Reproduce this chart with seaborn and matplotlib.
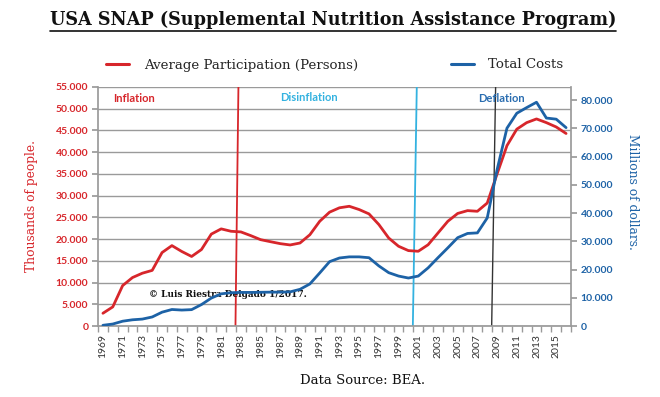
import matplotlib
matplotlib.use("Agg")
import matplotlib.pyplot as plt
import seaborn as sns
import pandas as pd
from matplotlib.lines import Line2D
from matplotlib.ticker import FuncFormatter, MultipleLocator, FixedLocator

# ---------------- data ----------------
years = list(range(1969, 2017))
participation = [2930, 4400, 9300, 11150, 12150, 12800, 16900, 18500, 17150, 16000,
                 17600, 21150, 22350, 21800, 21650, 20800, 19870, 19400, 18950, 18650,
                 19100, 21000, 24100, 26200, 27200, 27550, 26800, 25800, 23350, 20250,
                 18350, 17350, 17200, 18700, 21400, 24100, 25900, 26550, 26400, 28300,
                 35000, 41500, 45300, 46800, 47650, 46800, 45800, 44300]
costs = [250, 700, 1700, 2200, 2450, 3200, 4900, 5850, 5650, 5800,
         7600, 9900, 11400, 11800, 11900, 11900, 11950, 12000, 12000, 12100,
         13000, 14900, 18800, 22800, 24100, 24500, 24500, 24200, 21300, 18900,
         17700, 17000, 17700, 20600, 24200, 27700, 31300, 32800, 33000, 38300,
         55400, 70100, 75400, 77400, 79300, 73700, 73300, 70300]
tick_years = list(range(1969, 2016, 2))
period_labels = ["Inflation", "Disinflation", "Deflation"]
break_top = [1982.75, 2000.85, 2008.85]
break_bottom = [1982.45, 2000.45, 2008.45]

df = pd.DataFrame({"year": years, "participation": participation, "costs": costs})

RED = "#d7262b"
BLUE = "#1d62a6"
CYAN = "#33b2e0"
GRID = "#9a9a9a"

sns.set_theme(style="white")
plt.rcParams["font.family"] = ["DejaVu Sans"]

fig = plt.figure(figsize=(6.6, 3.97), dpi=100)
ax = fig.add_axes([98 / 660, 1 - 326 / 397, (571 - 98) / 660, (326 - 87) / 397])
ax2 = ax.twinx()

sns.lineplot(data=df, x="year", y="participation", ax=ax, color=RED, lw=2.0,
             label="Average Participation (Persons)", legend=False)
sns.lineplot(data=df, x="year", y="costs", ax=ax2, color=BLUE, lw=2.0,
             label="Total Costs", legend=False)

ax.set_xlim(years[0] - 0.5, years[-1] + 0.5)
ax.set_ylim(0, 55000)
ax2.set_ylim(0, 84700)

# grid and spines
ax.yaxis.set_major_locator(MultipleLocator(5000))
ax.grid(axis="y", color=GRID, lw=1.0)
ax.grid(axis="x", visible=False)
ax.set_axisbelow(True)
for a in (ax, ax2):
    for s in a.spines.values():
        s.set_visible(False)
ax.spines["left"].set_visible(True)
ax.spines["left"].set_color(GRID)
ax.spines["bottom"].set_visible(True)
ax.spines["bottom"].set_color(GRID)
ax2.spines["right"].set_visible(True)
ax2.spines["right"].set_color(GRID)

fmt = FuncFormatter(lambda v, p: f"{int(v):,}".replace(",", "."))
ax.yaxis.set_major_formatter(fmt)
ax2.yaxis.set_major_locator(MultipleLocator(10000))
ax2.yaxis.set_major_formatter(fmt)

tickfont = ["Lato", "DejaVu Sans"]
ax.tick_params(axis="y", which="major", left=True, length=4, color=GRID, labelcolor=RED,
               labelsize=7.5, pad=3)
for t in ax.get_yticklabels():
    t.set_fontweight("bold"); t.set_family(tickfont)
ax2.tick_params(axis="y", which="major", right=True, length=4, color=GRID, labelcolor=BLUE,
                labelsize=7.5, pad=3)
for t in ax2.get_yticklabels():
    t.set_fontweight("bold"); t.set_family(tickfont)

ax.xaxis.set_major_locator(FixedLocator(tick_years))
ax.set_xticklabels([str(y) for y in tick_years], rotation=90, family=tickfont,
                   fontsize=7.5, color="#333333")
ax.xaxis.set_minor_locator(FixedLocator([y - 0.5 for y in years] + [years[-1] + 0.5]))
ax.tick_params(axis="x", which="major", length=0, pad=6)
ax.tick_params(axis="x", which="minor", bottom=True, length=4, color=GRID)

ax.set_xlabel("")
ax.set_ylabel("Thousands of people.", family="DejaVu Serif", color=RED, fontsize=8.8,
              labelpad=14)
ax2.set_ylabel("Millions of dollars.", family="DejaVu Serif", color=BLUE, fontsize=8.8,
               rotation=-90, labelpad=20)
ax2.yaxis.set_label_coords(1 + (639 - 571) / 473, 0.56)
ax.yaxis.set_label_coords(-(98 - 38) / 473, 0.50)

# period break lines
for xt, xb, c in zip(break_top, break_bottom, [RED, CYAN, "#333333"]):
    ax.plot([xb, xt], [0, 55000], color=c, lw=1.3 if c != "#333333" else 1.0, zorder=1)

# period labels
label_pos = [(1970.0, 52300), (1987.0, 52600), (2007.1, 52300)]
for (x, y), lab, c in zip(label_pos, period_labels, [RED, CYAN, "#2a6db0"]):
    ax.text(x, y, lab, color=c, fontsize=8, fontweight="bold", family=tickfont,
            ha="left", va="center")

ax.text(1973.7, 7300, "\u00a9 Luis Riestra Delgado 1/2017.", family="DejaVu Serif",
        fontweight="bold", fontsize=6.5, color="#111111", ha="left", va="center")

# title
title = fig.text(333 / 660, 1 - 20 / 397, "USA SNAP (Supplemental Nutrition Assistance Program)",
                 ha="center", va="center", fontsize=12.7, fontweight="bold",
                 family="DejaVu Serif", color="#111111")
fig.canvas.draw()
bb = title.get_window_extent().transformed(fig.transFigure.inverted())
fig.add_artist(Line2D([bb.x0, bb.x1], [bb.y0 - 0.004, bb.y0 - 0.004],
                      transform=fig.transFigure, color="#111111", lw=1.2))

# legend
handles = [Line2D([], [], color=RED, lw=2.2), Line2D([], [], color=BLUE, lw=2.2)]
fig.legend(handles, ["Average Participation (Persons)", "Total Costs"], ncol=2,
           loc="center", bbox_to_anchor=(335 / 660, 1 - 65 / 397), frameon=False,
           prop={"family": "DejaVu Serif", "size": 9.6}, handlelength=1.7,
           columnspacing=7.0, handletextpad=1.1)

fig.text(363 / 660, 1 - 380 / 397, "Data Source: BEA.", family="DejaVu Serif",
         fontsize=9.5, ha="center", va="center", color="#111111")

fig.savefig("out.png", dpi=100, facecolor="white")
